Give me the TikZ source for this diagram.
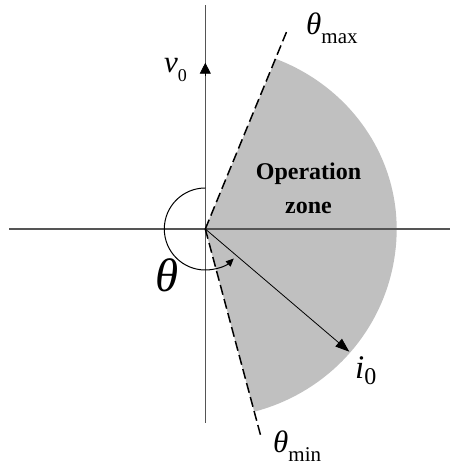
\documentclass[tikz,border=0pt]{standalone}
\usepackage{fontspec}
\setmainfont{Liberation Serif}
\usetikzlibrary{arrows.meta}
\definecolor{zonegray}{RGB}{192,192,192}
\definecolor{axisgray}{RGB}{85,85,85}
\newcommand\setfs[1]{\fontsize{#1}{#1}\selectfont}
\begin{document}
\begin{tikzpicture}[x=1pt,y=1pt,
  axisline/.style={draw=axisgray,line width=1.1pt},
  boundline/.style={draw=black,line width=1.5pt,dash pattern=on 10pt off 4.5pt},
  lbl/.style={inner sep=0pt,anchor=base west},
  thinarrow/.style={draw=black,line width=0.8pt}]
\useasboundingbox (0,0) rectangle (450,466);
\coordinate (O) at (205.3,237);
% operation zone
\fill[zonegray] (O) -- plot[domain=68.4:0,samples=40] ({205.3+191.4*cos(\x)},{237+183*sin(\x)})
  -- plot[domain=0:-75.2,samples=40] ({205.3+191.4*cos(\x)},{237+189*sin(\x)}) -- cycle;
% axes
\coordinate (xl) at (9,237);
\coordinate (xr) at (450,237);
\coordinate (yt) at (205.3,461);
\coordinate (yb) at (205.3,43);
\draw[axisline] (xl) -- (xr);
\draw[axisline] (yb) -- (yt);
% v0 arrow head on the vertical axis
\coordinate (vbase) at (205.3,390);
\coordinate (vtip) at (205.3,403.3);
\draw[thinarrow,-{Triangle[length=11pt,width=11pt]}] (vbase) -- (vtip);
% boundaries
\draw[boundline] (O) -- ++(67.6:216) coordinate (maxend);
\draw[boundline] (O) -- ++(-75:215) coordinate (minend);
% i0 arrow
\coordinate (itip) at (349.3,114.3);
\draw[thinarrow,-{Triangle[length=14pt,width=10pt]}] (O) -- (itip);
% theta arc
\draw[thinarrow,line width=1pt,-{Triangle[length=8pt,width=7pt]}] ([shift={(90:41)}]O) arc[start angle=90,end angle=314,radius=41];
% labels
\node[lbl] (tmax) at (306,431) {\setfs{31}\textit{θ}\raisebox{-9pt}{\setfs{21}max}};
\node[lbl] (tmin) at (273,13) {\setfs{31}\textit{θ}\raisebox{-9pt}{\setfs{21}min}};
\node[lbl] (v0) at (164,393) {\setfs{31}\textit{v}\raisebox{-9pt}{\setfs{18}0}};
\node[lbl] (i0) at (355,87.5) {\setfs{33}\textit{i}\raisebox{-6pt}{\setfs{24}0}};
\node[lbl] (th) at (155,174) {\setfs{47}\textit{θ}};
\node[font=\fontsize{24}{34}\selectfont\bfseries,align=center,inner sep=0pt] (zone) at (308.5,278) {Operation\\zone};
\end{tikzpicture}
\end{document}
